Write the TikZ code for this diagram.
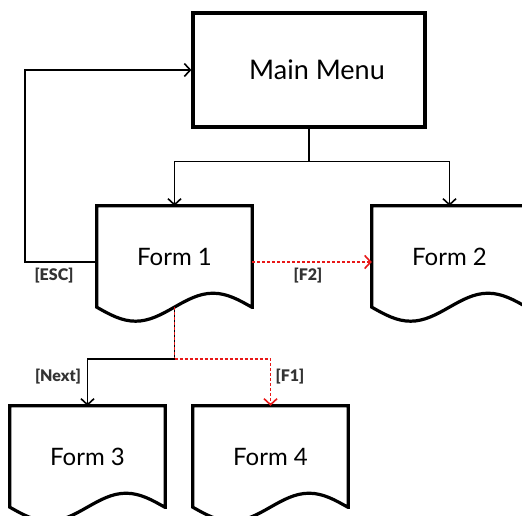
\documentclass[tikz,border=0pt]{standalone}
\usepackage{fontspec}
\setmainfont{Lato}
\newfontfamily\keyfont{Lato Black}
\usetikzlibrary{arrows.meta}

\definecolor{hotred}{RGB}{232,24,24}
\tikzset{
  box/.style={draw, line width=3.2pt, inner sep=0pt, font=\fontsize{27}{30}\selectfont},
  form/.style={inner sep=0pt, minimum width=155pt, minimum height=101pt, font=\fontsize{24}{28}\selectfont},
  outline/.style={line width=3.2pt, line join=miter},
  link/.style={line width=1.6pt, -{Straight Barb[length=6pt,width=13pt,line width=1.6pt]}},
  hotkey/.style={hotred, line width=1.9pt, dash pattern=on 3pt off 2pt},
  keylabel/.style={font=\keyfont\fontsize{16}{18}\selectfont, text=black!80}
}
\newcommand{\formoutline}[1]{%
  \draw[outline] (#1.south east) -- (#1.north east) -- (#1.north west) -- (#1.south west)
    sin ++(38.75,14) cos ++(38.75,-14) sin ++(38.75,-14) cos ++(38.75,14) -- cycle;}

\begin{document}
\begin{tikzpicture}[x=1pt,y=-1pt]
  \useasboundingbox (0,0) rectangle (522,515);
  \begin{scope}
    \clip (0,0) rectangle (522,515);
    \node[box, minimum width=232pt, minimum height=114pt] (menu) at (309,70) {\hspace*{16pt}Main Menu};
    \node[form] (f1) at (174.5,256.5) {Form 1};
    \node[form] (f2) at (449.5,256.5) {Form 2};
    \node[form] (f3) at (87.5,456.5) {Form 3};
    \node[form] (f4) at (270.5,456.5) {Form 4};
    \formoutline{f1}
    \formoutline{f2}
    \formoutline{f3}
    \formoutline{f4}
  \end{scope}
  % menu to forms
  \draw[link] (menu.south) -- ++(0,33) coordinate (split) -| (f1.north);
  \draw[link] (split) -| (f2.north);
  % escape back to menu
  \draw[link] ([yshift=-5.5pt]f1.west) -- ++(-72,0) |- (menu.west);
  \draw[link, hotkey] ([yshift=-5.5pt]f1.east) -- ([yshift=-5.5pt]f2.west);
  % form 1 to forms 3 and 4
  \draw[line width=1.6pt] (f1.south) -- ++(0,52) coordinate (branch);
  \draw[hotkey] (f1.south) -- (branch);
  \draw[link] (branch) -| (f3.north);
  \draw[link, hotkey] (branch) -| (f4.north);
  \node[keylabel] (esc) at (54,276) {[ESC]};
  \node[keylabel] (kf2) at (308,276) {[F2]};
  \node[keylabel] (next) at (58,377) {[Next]};
  \node[keylabel] (kf1) at (290,377) {[F1]};
\end{tikzpicture}
\end{document}
